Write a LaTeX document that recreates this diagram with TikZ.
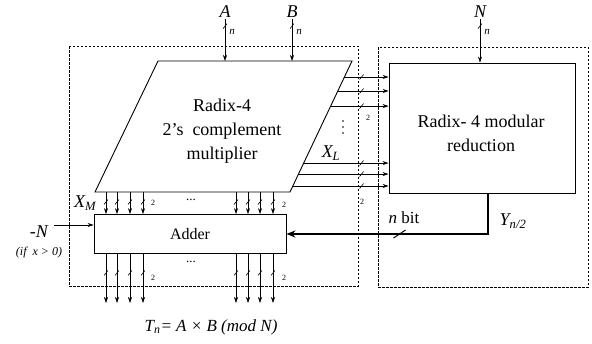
\documentclass[tikz,border=0pt]{standalone}
\usepackage{fontspec}
\setmainfont{Liberation Serif}
\usetikzlibrary{arrows.meta,positioning,calc,decorations.markings}

\begin{document}
\begin{tikzpicture}[
  x=1pt, y=-1pt,
  blk/.style={draw, line width=0.9pt, inner sep=0pt},
  area/.style={draw, line width=0.6pt, dash pattern=on 2.5pt off 1.5pt},
  ar/.style={-{Stealth[length=6pt,width=4pt]}, line width=0.6pt},
  fb/.style={-{Stealth[length=9pt,width=7pt]}, line width=1.5pt},
  big/.style={font=\fontsize{18}{24}\selectfont, align=center},
  sig/.style={font=\fontsize{18}{20}\selectfont\itshape, inner sep=1pt},
  wd/.style={font=\fontsize{11}{12}\selectfont\itshape, inner sep=1pt},
  two/.style={font=\fontsize{8}{9}\selectfont, inner sep=0.5pt},
  dotsl/.style={font=\fontsize{13}{14}\selectfont, inner sep=0pt},
  tickh/.style={postaction={decorate, decoration={markings,
      mark=at position #1 with {\draw[-, line width=0.6pt] (-2pt,-2.5pt) -- (2pt,2.5pt);}}}},
  tickv/.style={postaction={decorate, decoration={markings,
      mark=at position #1 with {\draw[-, line width=0.6pt] (-2.5pt,2pt) -- (2.5pt,-2pt);}}}},
  slash/.style={postaction={decorate, decoration={markings,
      mark=at position #1 with {\draw[-, line width=1pt] (-6pt,-4pt) -- (6pt,4pt);}}}},
]
\useasboundingbox (0,0) rectangle (592,343);

%% ---------- dashed areas ----------
\draw[area] (69,46) rectangle (358,286);
\draw[area] (378,47) rectangle (588,287);

%% ---------- blocks ----------
\coordinate (pTL) at (158,61);
\coordinate (pTR) at (352,61);
\coordinate (pBR) at (290,192);
\coordinate (pBL) at (95,192);
\draw[line width=0.9pt] (pTL) -- (pTR) -- (pBR) -- (pBL) -- cycle;
\node[big] (mul) at (222,131) {Radix-4\\2’s\ \ complement\\multiplier};

\node[blk, minimum width=186pt, minimum height=130pt] (red) at (482,128) {};
\node[big] (redtxt) at (481,133) {Radix- 4 modular\\reduction};

\node[blk, minimum width=192pt, minimum height=39pt,
      font=\fontsize{16}{18}\selectfont] (add) at (190,234) {Adder};

%% ---------- inputs ----------
\node[sig] (A) at (225,12) {A};
\node[sig] (B) at (292,12) {B};
\node[sig] (N) at (480,12) {N};
\draw[ar, tickv=7pt] (A.south) -- (A.south |- pTL) node[wd, pos=0.3, right=3pt] {n};
\draw[ar, tickv=7pt] (B.south) -- (B.south |- pTL) node[wd, pos=0.3, right=3pt] {n};
\draw[ar, tickv=7pt] (N.south) -- (N.south |- red.north) node[wd, pos=0.3, right=3pt] {n};

%% ---------- multiplier -> reduction ----------
\foreach \t in {0.122,0.229,0.344,0.779,0.863,0.954}
  \draw[ar, tickh=-27pt] ($(pTR)!\t!(pBR)$) coordinate (s) -- (s -| red.west);
\foreach \yy in {121,127,133}
  \fill (343,\yy) circle (0.8pt);
\node[sig] (XL) at (331,153) {X\textsubscript{\textit{L}}};
\node[two] (t1) at (368,118) {2};
\node[two] (t2) at (362,202) {2};

%% ---------- multiplier -> adder ----------
\foreach \x in {106,117,130,143,236,248,260,273} {
  \coordinate (d) at (\x,192);
  \draw[ar, tickv=10pt] (d) -- (d |- add.north);
}
\node[sig] (XM) at (85,203) {X\textsubscript{\textit{M}}};
\node[dotsl] (hd1) at (191,200) {...};
\node[two] (t3) at (153,203) {2};
\node[two] (t4) at (284,205) {2};

%% ---------- adder -> outputs ----------
\foreach \x in {106,117,130,143,236,248,260,273} {
  \coordinate (o) at (\x,303);
  \draw[ar, tickv=19pt] (o |- add.south) -- (o);
}
\node[dotsl] (hd2) at (191,262) {...};
\node[two] (t5) at (153,278) {2};
\node[two] (t6) at (284,278) {2};
\node[font=\fontsize{17}{19}\selectfont\itshape] (Tn) at (211,327)
  {T\textsubscript{n}= A × B (mod N)};

%% ---------- correction input ----------
\node[sig] (negN) at (39,232) {-N};
\node[font=\fontsize{12}{13}\selectfont\itshape] (cond) at (39,253) {(if\ \ x > 0)};
\coordinate (nin) at ([yshift=9pt]add.west);
\draw[ar] (negN.east |- nin) ++(5pt,0) -- (nin);

%% ---------- feedback ----------
\draw[fb, slash=129pt] ([xshift=6pt]red.south) |- (add.east);
\node[font=\fontsize{17}{19}\selectfont] (nbit) at (404,218) {\textit{n} bit};
\node[sig] (Y) at (513,221) {Y\textsubscript{\textit{n/2}}};

\end{tikzpicture}
\end{document}
